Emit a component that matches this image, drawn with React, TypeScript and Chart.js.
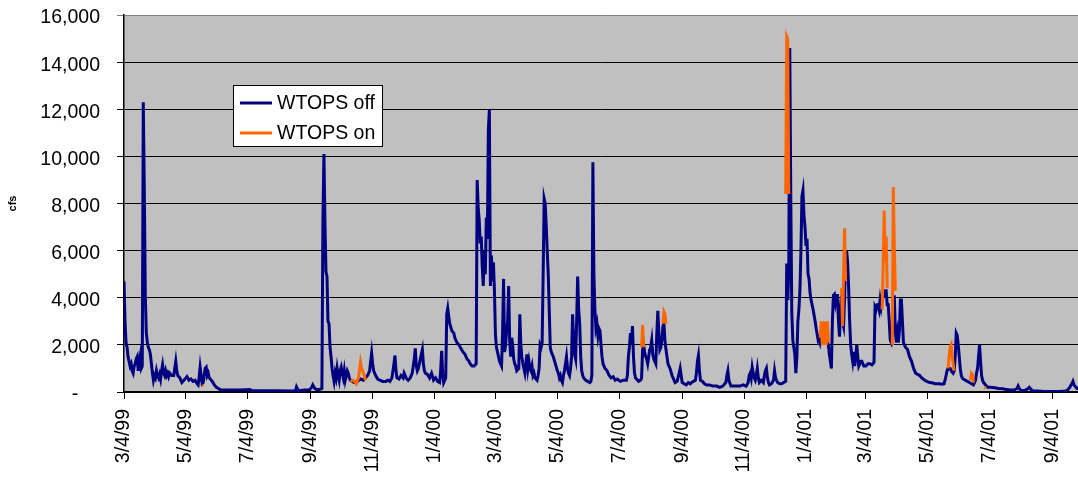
import { useEffect, useRef } from "react";
import { Chart, registerables } from "chart.js";

Chart.register(...registerables);

// x values are day offsets counted from 3/4/99; y values are flows in cfs.
const tickLabels = [
  "3/4/99", "5/4/99", "7/4/99", "9/4/99", "11/4/99", "1/4/00", "3/4/00", "5/4/00",
  "7/4/00", "9/4/00", "11/4/00", "1/4/01", "3/4/01", "5/4/01", "7/4/01", "9/4/01",
];
const yTickValues = [0, 2000, 4000, 6000, 8000, 10000, 12000, 14000, 16000];
const lastDay = 940;

const seriesNames = ["WTOPS off", "WTOPS on"];

// [day, cfs]
const offFlow: [number, number][] = [
  [0, 4700], [1, 3000], [2, 2100], [3, 1900], [4, 1500], [5, 1300], [6, 1100], [7, 1200], [8, 900], [9, 800],
  [10, 1100], [11, 1200], [12, 1400], [13, 1500], [14, 900], [15, 1300], [16, 1550], [17, 1000], [18, 1100],
  [19, 12300], [20, 8600], [21, 4100], [22, 2500], [23, 2100], [24, 1900], [25, 1800], [26, 1600], [27, 1200],
  [28, 800], [29, 500], [30, 700], [31, 600], [32, 900], [33, 700], [34, 600], [35, 750], [36, 550], [37, 900],
  [38, 1150], [39, 800], [40, 700], [41, 900], [42, 700], [43, 800], [44, 650], [45, 800], [47, 700], [49, 700],
  [51, 1300], [52, 900], [53, 700], [55, 600], [57, 400], [59, 500], [61, 600], [62, 650], [64, 500], [66, 550],
  [68, 450], [70, 500], [72, 350], [73, 300], [74, 600], [75, 1050], [76, 700], [77, 350], [78, 400], [79, 700],
  [80, 1000], [81, 1050], [82, 700], [83, 800], [84, 600], [85, 550], [87, 450], [89, 300], [91, 200], [93, 150],
  [95, 100], [105, 80], [114, 80], [120, 100], [124, 110], [126, 60], [135, 50], [150, 50], [165, 40], [169, 50],
  [170, 220], [172, 50], [178, 80], [183, 100], [185, 200], [186, 300], [188, 150], [190, 100], [193, 120],
  [195, 150], [196, 7300], [197, 10100], [198, 7200], [199, 5100], [200, 4900], [201, 3000], [202, 2900],
  [203, 1900], [204, 1500], [205, 1000], [206, 700], [207, 450], [208, 800], [209, 600], [210, 1000], [211, 700],
  [212, 500], [213, 900], [214, 1050], [215, 800], [216, 600], [217, 900], [218, 500], [219, 700], [220, 900],
  [221, 800], [222, 600], [223, 500], [225, 450], [227, 400], [230, 450], [233, 550], [236, 500], [238, 600],
  [240, 700], [242, 900], [244, 1650], [245, 1200], [246, 900], [248, 700], [250, 550], [252, 500], [255, 450],
  [258, 450], [260, 500], [262, 450], [264, 600], [266, 1200], [267, 1550], [268, 900], [269, 600], [271, 550],
  [273, 700], [275, 600], [276, 800], [278, 600], [280, 500], [282, 600], [284, 800], [286, 1400], [287, 1850],
  [288, 1100], [289, 900], [290, 1000], [292, 1400], [294, 1800], [295, 1200], [296, 900], [297, 800], [299, 750],
  [301, 600], [303, 800], [305, 500], [307, 600], [309, 450], [311, 400], [312, 900], [313, 1750], [314, 800],
  [315, 400], [317, 600], [318, 3300], [319, 3550], [320, 3200], [321, 2900], [323, 2600], [325, 2500],
  [326, 2300], [328, 2100], [330, 2000], [332, 1850], [334, 1700], [336, 1600], [338, 1400], [340, 1300],
  [341, 1200], [343, 1100], [345, 1100], [347, 1200], [348, 9000], [349, 7800], [350, 7300], [351, 6300],
  [352, 6600], [353, 5300], [354, 4500], [355, 6000], [356, 5000], [357, 7400], [358, 6500], [359, 11100],
  [360, 12000], [361, 4500], [362, 5800], [363, 4700], [364, 5500], [365, 4300], [366, 2400], [367, 1900],
  [368, 1700], [369, 1500], [370, 1300], [371, 1200], [372, 1100], [373, 2500], [374, 4800], [375, 1700],
  [376, 2000], [377, 2600], [378, 3000], [379, 4500], [380, 2200], [381, 1500], [382, 2300], [383, 2000],
  [384, 1400], [385, 1200], [386, 1100], [387, 900], [389, 1000], [390, 3300], [391, 2000], [392, 1500],
  [393, 1200], [394, 1000], [395, 800], [396, 1200], [397, 1600], [398, 1000], [399, 1300], [400, 1000],
  [401, 900], [402, 1100], [403, 700], [404, 800], [405, 600], [407, 500], [408, 700], [409, 1000], [410, 2000],
  [411, 1900], [412, 2100], [413, 5000], [414, 8200], [415, 8000], [416, 7100], [417, 6000], [418, 5000],
  [419, 3500], [420, 1900], [421, 1700], [422, 1600], [423, 1500], [425, 1200], [427, 900], [428, 800],
  [429, 600], [430, 700], [431, 500], [432, 400], [433, 700], [434, 900], [435, 1200], [436, 1500], [437, 1000],
  [438, 800], [439, 700], [440, 1000], [441, 1500], [442, 3300], [443, 2200], [444, 1600], [445, 1400],
  [446, 3000], [447, 4900], [448, 3500], [449, 2900], [450, 1500], [451, 900], [452, 700], [453, 600],
  [455, 500], [457, 450], [459, 400], [460, 450], [461, 700], [462, 9750], [463, 5000], [464, 3500], [465, 2700],
  [466, 2900], [467, 2400], [468, 2700], [469, 2600], [470, 2000], [471, 1500], [472, 1200], [473, 1100],
  [474, 1000], [476, 900], [478, 700], [480, 600], [482, 650], [484, 500], [486, 550], [489, 450], [492, 500],
  [495, 500], [496, 700], [497, 1500], [498, 1900], [499, 2500], [500, 2000], [501, 2800], [502, 1500],
  [503, 800], [504, 600], [505, 550], [507, 450], [509, 500], [510, 600], [511, 1800], [512, 2000], [513, 1700],
  [514, 1500], [515, 1400], [516, 1200], [517, 1500], [518, 1800], [519, 1900], [520, 2200], [521, 1600],
  [522, 1400], [523, 1300], [524, 1200], [525, 2500], [526, 3450], [527, 2500], [528, 1800], [529, 1900],
  [530, 2200], [531, 2800], [532, 2900], [533, 2200], [534, 1800], [535, 1500], [536, 1200], [538, 1000],
  [540, 700], [542, 500], [543, 400], [545, 450], [547, 800], [548, 1000], [549, 700], [550, 400], [552, 350],
  [554, 300], [556, 400], [558, 350], [559, 400], [561, 450], [563, 500], [564, 800], [565, 1300], [566, 1550],
  [567, 900], [568, 500], [570, 450], [572, 350], [574, 300], [577, 300], [580, 250], [584, 250], [587, 200],
  [590, 250], [593, 400], [594, 700], [595, 900], [596, 500], [598, 250], [602, 250], [607, 250], [610, 300],
  [613, 250], [615, 400], [616, 700], [617, 800], [618, 600], [619, 1050], [620, 800], [621, 600], [622, 500],
  [623, 700], [624, 1000], [625, 600], [626, 400], [628, 500], [630, 400], [631, 700], [632, 900], [633, 1000],
  [634, 600], [635, 400], [636, 300], [638, 350], [640, 500], [641, 900], [642, 600], [644, 400], [646, 350],
  [648, 350], [650, 400], [652, 450], [653, 5450], [654, 3900], [655, 5000], [656, 14600], [657, 8300],
  [658, 3350], [659, 2200], [660, 1900], [661, 1600], [662, 800], [663, 1500], [664, 3000], [665, 3500],
  [666, 4300], [667, 6000], [668, 8300], [669, 8550], [670, 7500], [671, 7000], [672, 6200], [673, 6500],
  [674, 5000], [675, 4800], [676, 4200], [677, 3900], [679, 3500], [681, 3000], [682, 2700], [684, 2200],
  [685, 2300], [686, 2100], [687, 2300], [689, 2600], [691, 2300], [693, 2100], [694, 2000], [695, 1600],
  [696, 1300], [697, 1000], [698, 3000], [699, 4100], [700, 4150], [701, 3800], [702, 4100], [703, 4100],
  [704, 3000], [705, 2350], [706, 3500], [707, 4100], [708, 3000], [709, 2800], [710, 4000], [711, 5500],
  [712, 6000], [713, 5500], [714, 4450], [715, 3000], [716, 2000], [717, 1600], [718, 1300], [719, 1700],
  [720, 1100], [721, 1500], [722, 2000], [723, 1500], [724, 1100], [725, 1200], [726, 1300], [727, 1300],
  [729, 1100], [731, 1100], [733, 1200], [735, 1200], [737, 1150], [739, 1250], [740, 3600], [741, 3500],
  [742, 3700], [743, 3700], [744, 3500], [745, 3900], [746, 3600], [747, 3900], [748, 4100], [749, 4100],
  [750, 4300], [751, 4300], [752, 3700], [753, 3700], [754, 3000], [755, 2200], [756, 2100], [757, 2500],
  [758, 3500], [759, 4100], [760, 2600], [761, 2100], [762, 2500], [763, 2100], [764, 2600], [765, 3900],
  [766, 3900], [767, 3000], [768, 2100], [769, 2000], [770, 1900], [772, 1800], [774, 1500], [776, 1300],
  [778, 1000], [780, 800], [782, 750], [784, 700], [786, 600], [789, 500], [791, 450], [794, 400], [797, 380],
  [799, 350], [803, 350], [806, 330], [808, 350], [809, 500], [810, 700], [811, 900], [812, 1000], [813, 1000],
  [814, 1000], [815, 900], [816, 850], [817, 800], [818, 900], [819, 1500], [820, 2500], [821, 2400],
  [822, 2000], [823, 1500], [824, 1000], [825, 700], [826, 600], [827, 550], [829, 500], [831, 450], [833, 400],
  [835, 350], [837, 300], [839, 500], [840, 800], [841, 1000], [842, 1500], [843, 2000], [844, 1300], [845, 700],
  [846, 500], [847, 400], [849, 300], [851, 200], [854, 200], [858, 180], [862, 150], [866, 140], [868, 120],
  [872, 100], [877, 80], [880, 150], [881, 250], [882, 150], [884, 60], [888, 80], [891, 150], [892, 200],
  [893, 150], [895, 50], [900, 40], [907, 20], [915, 20], [922, 20], [928, 40], [930, 100], [932, 200],
  [933, 300], [934, 350], [935, 450], [936, 300], [937, 250], [938, 200], [939, 150], [940, 150],
];

// [day, cfs]; null breaks the line between operating periods
const onFlow: [number, number | null][] = [
  [77, 300], [78, 250], [79, null],
  [223, 450], [226, 500], [229, 350], [231, 600], [233, 1250], [234, 1000], [236, 800], [238, 500], [239, null],
  [510, 1900], [511, 2850], [512, 1900], [513, null],
  [531, 2900], [532, 3400], [533, 3300], [534, 2900], [535, null],
  [652, 8400], [653, 15100], [654, 15000], [655, 8400], [656, null],
  [686, 2300], [687, 3000], [688, 2000], [689, 3000], [690, 2000], [691, 3000], [692, 2000], [693, 3000],
  [694, 2100], [695, null],
  [707, 4400], [708, 2800], [709, 5000], [710, 6950], [711, 4700], [712, null],
  [747, 3500], [748, 5300], [749, 7700], [750, 5500], [751, 6600], [752, 4400], [753, null],
  [757, 2000], [758, 8700], [759, 6200], [760, 4300], [761, null],
  [812, 1000], [813, 1500], [814, 1900], [815, 2000], [816, 1500], [817, 1200], [818, 900], [819, null],
  [834, 500], [835, 800], [836, 750], [837, 400], [838, null],
  [848, 200], [849, 150],
];

const FONT = "'Liberation Sans', Arial, sans-serif";

function dayOf(label: string): number {
  const [m, d, y] = label.split("/").map(Number);
  const year = y < 50 ? 2000 + y : 1900 + y;
  return Math.round((Date.UTC(year, m - 1, d) - Date.UTC(1999, 2, 4)) / 86400000);
}

const plotBg = {
  id: "plotBg",
  beforeDraw(chart: any) {
    const { ctx, chartArea } = chart;
    ctx.save();
    ctx.fillStyle = "#C0C0C0";
    ctx.fillRect(chartArea.left, chartArea.top, chartArea.right - chartArea.left, chartArea.bottom - chartArea.top);
    ctx.restore();
  },
};

const boxLegend = {
  id: "boxLegend",
  afterDraw(chart: any) {
    const { ctx } = chart;
    const x = 233, y = 85, w = 149, h = 61;
    ctx.save();
    ctx.fillStyle = "#FFFFFF";
    ctx.fillRect(x, y, w, h);
    ctx.strokeStyle = "#000000";
    ctx.lineWidth = 1;
    ctx.strokeRect(x + 0.5, y + 0.5, w, h);
    ctx.font = `19.5px ${FONT}`;
    ctx.textBaseline = "middle";
    chart.data.datasets.forEach((ds: any, i: number) => {
      const cy = y + 18 + i * 30;
      ctx.strokeStyle = ds.borderColor;
      ctx.lineWidth = 3;
      ctx.beginPath();
      ctx.moveTo(x + 7, cy);
      ctx.lineTo(x + 39, cy);
      ctx.stroke();
      ctx.fillStyle = "#000000";
      ctx.fillText(ds.label, x + 44, cy + 1);
    });
    ctx.restore();
  },
};

export default function App() {
  const ref = useRef<HTMLCanvasElement>(null);

  useEffect(() => {
    const canvas = ref.current;
    if (!canvas) return;
    const tickDays = tickLabels.map(dayOf);
    const chart = new Chart(canvas, {
      type: "line",
      data: {
        datasets: [
          {
            label: seriesNames[0],
            data: offFlow.map(([d, v]) => ({ x: d, y: v })),
            borderColor: "#000080",
            backgroundColor: "#000080",
            borderWidth: 3,
            pointRadius: 0,
            tension: 0,
            order: 1,
          },
          {
            label: seriesNames[1],
            data: onFlow.map(([d, v]) => ({ x: d, y: v })),
            borderColor: "#FF6600",
            backgroundColor: "#FF6600",
            borderWidth: 3,
            pointRadius: 0,
            tension: 0,
            spanGaps: false,
            order: 0,
          },
        ],
      },
      options: {
        responsive: false,
        animation: false,
        events: [],
        layout: { padding: { top: 15, right: 0, left: 0, bottom: 0 } },
        plugins: { legend: { display: false }, tooltip: { enabled: false } },
        scales: {
          x: {
            type: "linear",
            min: 0,
            max: lastDay,
            afterFit(scale: any) {
              scale.height = 87;
              scale.paddingLeft = 0;
              scale.paddingRight = 0;
            },
            afterBuildTicks(scale: any) {
              scale.ticks = tickDays.map((v) => ({ value: v }));
            },
            grid: { drawOnChartArea: false, drawTicks: true, tickLength: 7, color: "#000000", lineWidth: 1 },
            border: { display: true, color: "#000000", width: 1.5 },
            ticks: {
              autoSkip: false,
              minRotation: 90,
              maxRotation: 90,
              padding: 10,
              color: "#000000",
              font: { family: FONT, size: 19.5 },
              callback: (_v: any, i: number) => tickLabels[i],
            },
          },
          y: {
            min: 0,
            max: 16000,
            afterFit(scale: any) {
              scale.width = 124;
              scale.paddingTop = 0;
              scale.paddingBottom = 0;
            },
            afterBuildTicks(scale: any) {
              scale.ticks = yTickValues.map((v) => ({ value: v }));
            },
            grid: {
              color: (c: any) => (c.tick && c.tick.value === 16000 ? "#808080" : "#000000"),
              lineWidth: 1,
              tickLength: 7,
            },
            border: { display: true, color: "#000000", width: 1.5 },
            title: {
              display: true,
              text: "cfs",
              color: "#000000",
              font: { family: FONT, size: 11, weight: "bold" },
              padding: { top: 6, bottom: 0 },
            },
            ticks: {
              padding: 17,
              labelOffset: 3,
              color: "#000000",
              font: { family: FONT, size: 19.5 },
              callback: (v: any) =>
                Number(v) === 0 ? "-\u00a0\u00a0\u00a0\u00a0" : Number(v).toLocaleString("en-US"),
            },
          },
        },
      },
      plugins: [plotBg, boxLegend],
    });
    return () => chart.destroy();
  }, []);

  return (
    <div style={{ position: "absolute", left: 0, top: 0, width: 1078, height: 479, background: "#FFFFFF" }}>
      <canvas ref={ref} width={1078} height={479} style={{ display: "block", width: 1078, height: 479 }} />
    </div>
  );
}
